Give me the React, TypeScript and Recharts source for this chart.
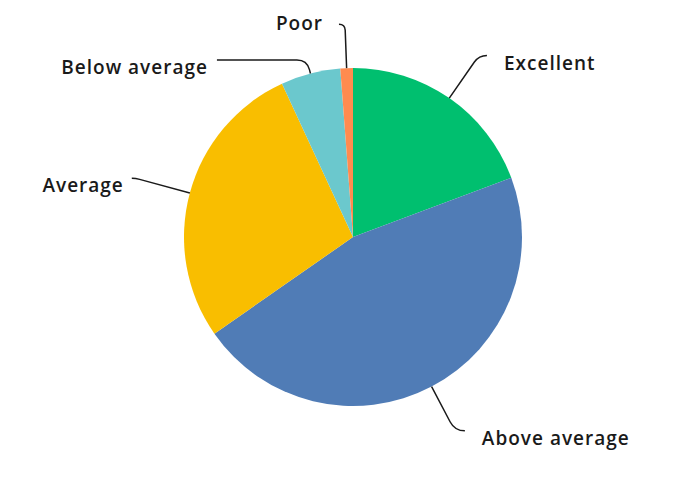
import React from 'react';
import { PieChart, Pie, Cell } from 'recharts';

const ratings = ['Excellent', 'Above average', 'Average', 'Below average', 'Poor'];
const shares = [19.3, 46.0, 27.8, 5.7, 1.2];
const colors = ['#00bf6f', '#507cb6', '#f9be00', '#6bc8cd', '#ff8b4f'];

// leader line shape per slice: radial run past the edge, horizontal run, text offset
const leaders = [
  { ext: 52, run: 8, gap: 17, dy: 8 },
  { ext: 50, run: 10, gap: 17, dy: 7 },
  { ext: 56, run: 4, gap: 8, dy: 7 },
  { ext: 14, run: 90, gap: 9, dy: 7 },
  { ext: 44, run: 6, gap: 16, dy: -1 },
];

const data = ratings.map((name, i) => ({ name, value: shares[i] }));

const RADIAN = Math.PI / 180;

const renderLabel = (props: any) => {
  const { cx, cy, midAngle, outerRadius, index, name } = props;
  const cfg = leaders[index];
  const cos = Math.cos(-midAngle * RADIAN);
  const sin = Math.sin(-midAngle * RADIAN);
  const dir = cos >= 0 ? 1 : -1;
  const k = Math.min(10, cfg.ext, cfg.run);
  const ax = cx + outerRadius * cos;
  const ay = cy + outerRadius * sin;
  const r2 = outerRadius + cfg.ext;
  const bx = cx + r2 * cos;
  const by = cy + r2 * sin;
  const px = cx + (r2 - k) * cos;
  const py = cy + (r2 - k) * sin;
  const ex = bx + dir * cfg.run;
  const d = `M${ax},${ay} L${px},${py} Q${bx},${by} ${bx + dir * k},${by} L${ex},${by}`;
  return (
    <g>
      <path d={d} stroke="#1a1a1a" strokeWidth={1.5} fill="none" />
      <text
        x={ex + dir * cfg.gap}
        y={by + cfg.dy}
        textAnchor={dir > 0 ? 'start' : 'end'}
        dominantBaseline="central"
        fill="#1a1a1a"
        fontSize={19}
        fontWeight={600}
        letterSpacing={1}
        fontFamily="'Open Sans', sans-serif"
      >
        {name}
      </text>
    </g>
  );
};

export default function App() {
  return (
    <div style={{ width: 690, height: 482, position: 'absolute', left: 0, top: 0 }}>
      <PieChart width={690} height={482} margin={{ top: 0, right: 0, bottom: 0, left: 0 }}>
        <Pie
          data={data}
          dataKey="value"
          nameKey="name"
          cx={353}
          cy={237}
          outerRadius={169}
          startAngle={90}
          endAngle={-270}
          stroke="none"
          label={renderLabel}
          labelLine={false}
          isAnimationActive={false}
        >
          {data.map((d, i) => (
            <Cell key={d.name} fill={colors[i]} />
          ))}
        </Pie>
      </PieChart>
    </div>
  );
}
